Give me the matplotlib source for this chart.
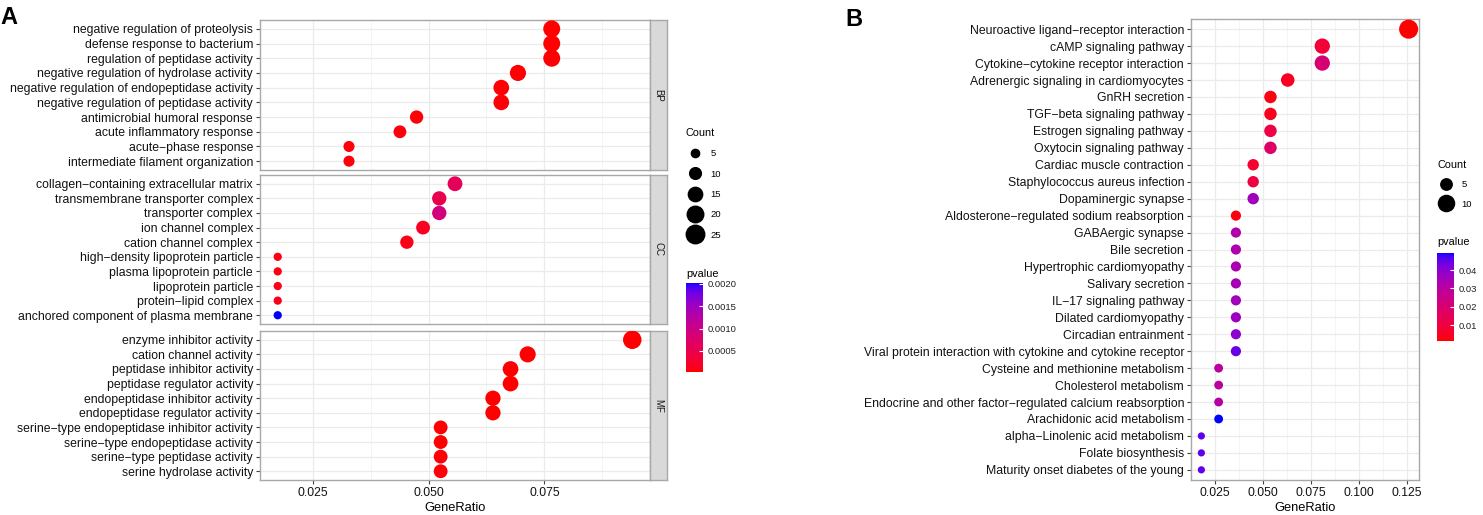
import numpy as np
import matplotlib
matplotlib.use("Agg")
import matplotlib.pyplot as plt
from matplotlib.colors import ListedColormap, Normalize
from matplotlib.lines import Line2D
from matplotlib.ticker import MultipleLocator, AutoMinorLocator, FormatStrFormatter
from matplotlib.cm import ScalarMappable

# ---- panel A: GO enrichment (BP / CC / MF) ----
bp_terms = ["negative regulation of proteolysis", "defense response to bacterium",
            "regulation of peptidase activity", "negative regulation of hydrolase activity",
            "negative regulation of endopeptidase activity", "negative regulation of peptidase activity",
            "antimicrobial humoral response", "acute inflammatory response",
            "acute\u2212phase response", "intermediate filament organization"]
bp_ratio = [0.0766, 0.0766, 0.0766, 0.0693, 0.0657, 0.0657, 0.0474, 0.0438, 0.0328, 0.0328]
bp_count = [21, 21, 21, 19, 18, 18, 13, 12, 9, 9]
bp_pvalue = [3.0e-5, 3.5e-5, 4.0e-5, 4.5e-5, 5.0e-5, 5.5e-5, 6.0e-5, 6.5e-5, 7.0e-5, 7.5e-5]

cc_terms = ["collagen\u2212containing extracellular matrix", "transmembrane transporter complex",
            "transporter complex", "ion channel complex", "cation channel complex",
            "high\u2212density lipoprotein particle", "plasma lipoprotein particle",
            "lipoprotein particle", "protein\u2212lipid complex", "anchored component of plasma membrane"]
cc_ratio = [0.0557, 0.0523, 0.0523, 0.0488, 0.0453, 0.0174, 0.0174, 0.0174, 0.0174, 0.0174]
cc_count = [16, 15, 15, 14, 13, 5, 5, 5, 5, 5]
cc_pvalue = [6.0e-4, 5.0e-4, 9.0e-4, 1.8e-4, 1.1e-4, 1.0e-4, 1.0e-4, 1.1e-4, 1.3e-4, 2.02e-3]

mf_terms = ["enzyme inhibitor activity", "cation channel activity", "peptidase inhibitor activity",
            "peptidase regulator activity", "endopeptidase inhibitor activity",
            "endopeptidase regulator activity", "serine\u2212type endopeptidase inhibitor activity",
            "serine\u2212type endopeptidase activity", "serine\u2212type peptidase activity",
            "serine hydrolase activity"]
mf_ratio = [0.0940, 0.0714, 0.0677, 0.0677, 0.0639, 0.0639, 0.0526, 0.0526, 0.0526, 0.0526]
mf_count = [25, 19, 18, 18, 17, 17, 14, 14, 14, 14]
mf_pvalue = [3.0e-5, 4.0e-5, 3.0e-5, 3.5e-5, 3.0e-5, 3.5e-5, 4.0e-5, 4.5e-5, 5.0e-5, 5.5e-5]

size_breaks_a = [5, 10, 15, 20, 25]
pval_breaks_a = [0.0005, 0.0010, 0.0015, 0.0020]

# ---- panel B: KEGG enrichment ----
kegg_terms = ["Neuroactive ligand\u2212receptor interaction", "cAMP signaling pathway",
              "Cytokine\u2212cytokine receptor interaction", "Adrenergic signaling in cardiomyocytes",
              "GnRH secretion", "TGF\u2212beta signaling pathway", "Estrogen signaling pathway",
              "Oxytocin signaling pathway", "Cardiac muscle contraction",
              "Staphylococcus aureus infection", "Dopaminergic synapse",
              "Aldosterone\u2212regulated sodium reabsorption", "GABAergic synapse", "Bile secretion",
              "Hypertrophic cardiomyopathy", "Salivary secretion", "IL\u221217 signaling pathway",
              "Dilated cardiomyopathy", "Circadian entrainment",
              "Viral protein interaction with cytokine and cytokine receptor",
              "Cysteine and methionine metabolism", "Cholesterol metabolism",
              "Endocrine and other factor\u2212regulated calcium reabsorption",
              "Arachidonic acid metabolism", "alpha\u2212Linolenic acid metabolism",
              "Folate biosynthesis", "Maturity onset diabetes of the young"]
kegg_ratio = [0.126, 0.081, 0.081, 0.063, 0.054, 0.054, 0.054, 0.054, 0.045, 0.045, 0.045,
              0.036, 0.036, 0.036, 0.036, 0.036, 0.036, 0.036, 0.036, 0.036,
              0.027, 0.027, 0.027, 0.027, 0.018, 0.018, 0.018]
kegg_count = [14, 9, 9, 7, 6, 6, 6, 6, 5, 5, 5, 4, 4, 4, 4, 4, 4, 4, 4, 4, 3, 3, 3, 3, 2, 2, 2]
kegg_pvalue = [0.0013, 0.0085, 0.0210, 0.0050, 0.0030, 0.0040, 0.0110, 0.0180, 0.0070, 0.0105,
               0.0360, 0.0028, 0.0320, 0.0330, 0.0335, 0.0345, 0.0355, 0.0365, 0.0395, 0.0445,
               0.0295, 0.0300, 0.0305, 0.0493, 0.0455, 0.0455, 0.0455]

size_breaks_b = [5, 10]
pval_breaks_b = [0.01, 0.02, 0.03, 0.04]

W, H, DPI = 1483, 515, 100
plt.rcParams["font.family"] = ["Liberation Sans", "DejaVu Sans"]


def lab_gradient(low, high, n=256):
    # ggplot2 blends gradient colours in CIE Lab
    M = np.array([[0.4124, 0.3576, 0.1805], [0.2126, 0.7152, 0.0722], [0.0193, 0.1192, 0.9505]])
    wp = np.array([0.95047, 1.0, 1.08883])
    d = 6 / 29

    def to_lab(rgb):
        c = np.array(rgb, float)
        c = np.where(c <= 0.04045, c / 12.92, ((c + 0.055) / 1.055) ** 2.4)
        xyz = M @ c / wp
        f = np.where(xyz > d ** 3, np.cbrt(xyz), xyz / (3 * d * d) + 4 / 29)
        return np.array([116 * f[1] - 16, 500 * (f[0] - f[1]), 200 * (f[1] - f[2])])

    def to_rgb(lab):
        fy = (lab[0] + 16) / 116
        f = np.array([fy + lab[1] / 500, fy, fy - lab[2] / 200])
        xyz = np.where(f > d, f ** 3, 3 * d * d * (f - 4 / 29)) * wp
        c = np.clip(np.linalg.solve(M, xyz), 0, 1)
        return np.where(c <= 0.0031308, 12.92 * c, 1.055 * c ** (1 / 2.4) - 0.055)

    a, b = to_lab(low), to_lab(high)
    return ListedColormap([np.clip(to_rgb(a + (b - a) * t), 0, 1) for t in np.linspace(0, 1, n)])


cmap = lab_gradient((1, 0, 0), (0, 0, 1))


def rect(x0, y0, x1, y1):
    return [x0 / W, 1 - y1 / H, (x1 - x0) / W, (y1 - y0) / H]


def style(ax):
    for s in ax.spines.values():
        s.set_color("#A8A8A8")
        s.set_linewidth(1.0)
    ax.grid(which="major", color="#EBEBEB", linewidth=0.9, zorder=0)
    ax.grid(which="minor", axis="x", color="#F3F3F3", linewidth=0.6, zorder=0)
    ax.set_axisbelow(True)
    ax.tick_params(axis="both", which="major", length=3, width=0.8, color="#444444",
                   labelsize=8.8, labelcolor="#111111", pad=2)
    ax.tick_params(axis="both", which="minor", length=0)


def dot_panel(ax, terms, ratio, count, pvalue, norm, k):
    y = np.arange(len(terms))[::-1]
    sizes = (k * np.sqrt(count) * 72 / DPI) ** 2
    ax.scatter(ratio, y, s=sizes, c=pvalue, cmap=cmap, norm=norm, edgecolors="none", zorder=3)
    ax.set_yticks(y, terms)
    ax.set_ylim(-0.6, len(terms) - 0.4)
    style(ax)


def size_legend(breaks, k, x, y, spacing):
    handles = [Line2D([], [], linestyle="none", marker="o", color="black",
                      markersize=k * np.sqrt(v) * 0.72) for v in breaks]
    leg = fig.legend(handles, [str(v) for v in breaks], title="Count", loc="upper left",
                     bbox_to_anchor=(x / W, 1 - y / H), frameon=False, fontsize=6.8,
                     title_fontsize=7.8, labelspacing=spacing, handletextpad=0.6,
                     borderpad=0, borderaxespad=0, alignment="left")
    return leg


def pvalue_bar(norm, breaks, box, fmt, ytitle):
    cax = fig.add_axes(rect(*box))
    cb = fig.colorbar(ScalarMappable(norm=norm, cmap=cmap), cax=cax, ticks=breaks)
    cb.outline.set_visible(False)
    cb.ax.yaxis.set_major_formatter(FormatStrFormatter(fmt))
    cb.ax.tick_params(length=3, width=0.8, color="white", direction="in", labelsize=6.8,
                      labelcolor="#222222", pad=3)
    fig.text(box[0] / W, 1 - ytitle / H, "pvalue", fontsize=7.8, ha="left", va="center")


fig = plt.figure(figsize=(W / DPI, H / DPI), dpi=DPI)

# ---- A ----
all_a = np.concatenate([bp_pvalue, cc_pvalue, mf_pvalue])
norm_a = Normalize(vmin=all_a.min(), vmax=all_a.max())
ratios_a = np.concatenate([bp_ratio, cc_ratio, mf_ratio])
pad_a = 0.05 * (ratios_a.max() - ratios_a.min())
xlim_a = (ratios_a.min() - pad_a, ratios_a.max() + pad_a)

groups = [("BP", bp_terms, bp_ratio, bp_count, bp_pvalue, (20, 170)),
          ("CC", cc_terms, cc_ratio, cc_count, cc_pvalue, (175, 324)),
          ("MF", mf_terms, mf_ratio, mf_count, mf_pvalue, (331, 480))]
k_a = 3.7
for i, (name, terms, ratio, count, pv, (top, bot)) in enumerate(groups):
    ax = fig.add_axes(rect(260, top, 650, bot))
    dot_panel(ax, terms, ratio, count, pv, norm_a, k_a)
    ax.set_xlim(*xlim_a)
    ax.xaxis.set_major_locator(MultipleLocator(0.025))
    ax.xaxis.set_minor_locator(AutoMinorLocator(2))
    ax.xaxis.set_major_formatter(FormatStrFormatter("%.3f"))
    if i < 2:
        ax.tick_params(axis="x", which="both", length=0, labelbottom=False)
    else:
        ax.set_xlabel("GeneRatio", fontsize=9.3, labelpad=2)
    sax = fig.add_axes(rect(650, top, 667, bot))
    sax.set_facecolor("#D9D9D9")
    sax.set_xticks([])
    sax.set_yticks([])
    for s in sax.spines.values():
        s.set_color("#A8A8A8")
        s.set_linewidth(1.0)
    sax.text(0.5, 0.5, name, rotation=270, ha="center", va="center", fontsize=7,
             color="#1A1A1A", transform=sax.transAxes)

size_legend(size_breaks_a, k_a, 686, 128, 1.2)
pvalue_bar(norm_a, pval_breaks_a, (686, 283, 703, 372), "%.4f", 274)
fig.text(0 / W, 1 - 18 / H, "A", fontsize=17, fontweight="bold", ha="left", va="center")

# ---- B ----
norm_b = Normalize(vmin=min(kegg_pvalue), vmax=max(kegg_pvalue))
k_b = 5.1
axb = fig.add_axes(rect(1191, 19, 1419, 480))
dot_panel(axb, kegg_terms, kegg_ratio, kegg_count, kegg_pvalue, norm_b, k_b)
axb.margins(x=0.05)
axb.xaxis.set_major_locator(MultipleLocator(0.025))
axb.xaxis.set_minor_locator(AutoMinorLocator(2))
axb.xaxis.set_major_formatter(FormatStrFormatter("%.3f"))
axb.set_xlabel("GeneRatio", fontsize=9.3, labelpad=2)

size_legend(size_breaks_b, k_b, 1437, 160, 1.1)
pvalue_bar(norm_b, pval_breaks_b, (1437, 253, 1454, 341), "%.2f", 242)
fig.text(845 / W, 1 - 20 / H, "B", fontsize=17, fontweight="bold", ha="left", va="center")

fig.savefig("out.png", dpi=DPI)
